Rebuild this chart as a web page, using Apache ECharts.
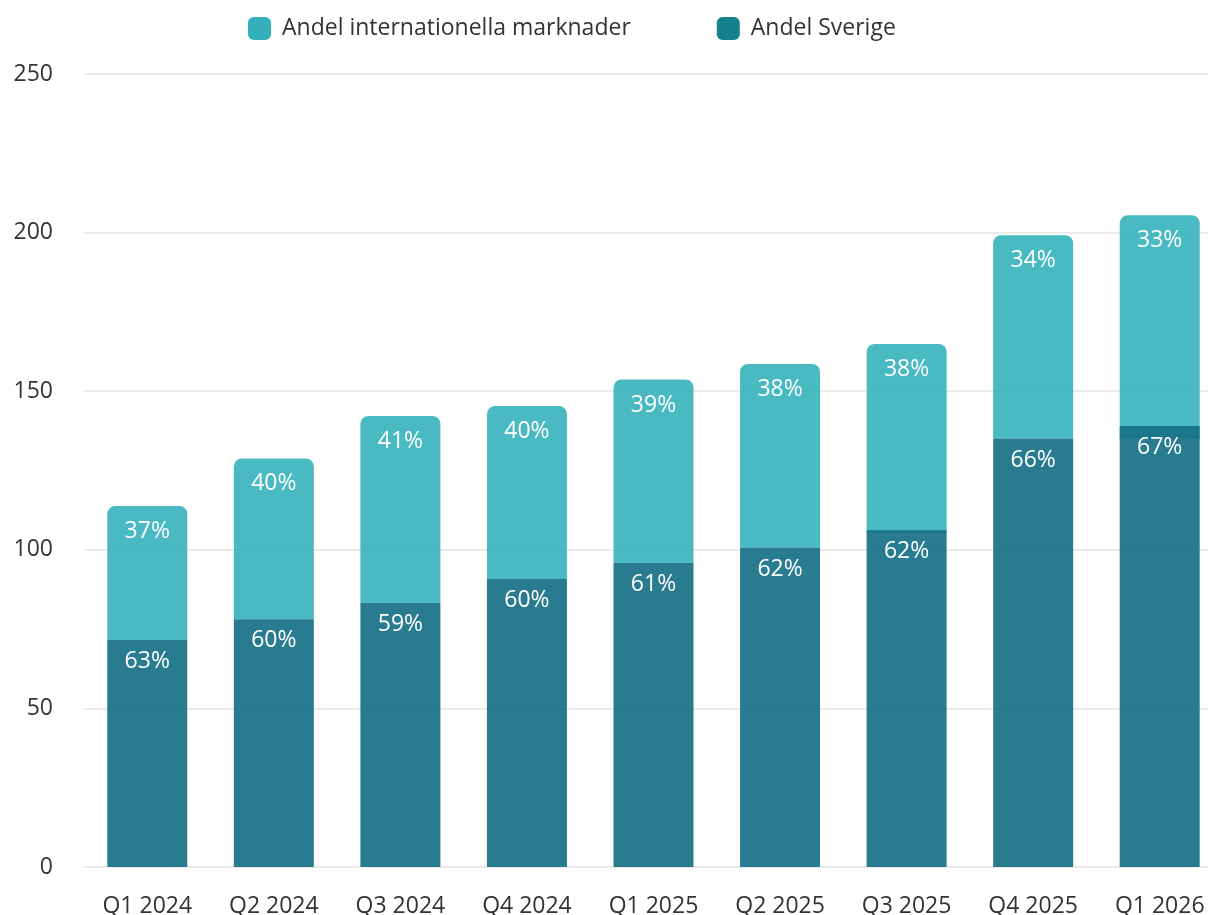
<!DOCTYPE html>
<html>
<head>
<meta charset="utf-8">
<script src="https://cdn.jsdelivr.net/npm/echarts@6/dist/echarts.min.js"></script>
<style>
  html, body { margin: 0; padding: 0; background: #fff; }
  #chart { width: 1208px; height: 915px; }
</style>
</head>
<body>
<div id="chart"></div>
<script>
var kvartal = ['Q1 2024', 'Q2 2024', 'Q3 2024', 'Q4 2024', 'Q1 2025', 'Q2 2025', 'Q3 2025', 'Q4 2025', 'Q1 2026'];
var sverige = [71.6, 78.1, 83.3, 90.8, 95.9, 100.7, 106.2, 135.1, 139.0];
var totalt = [113.8, 128.8, 142.2, 145.3, 153.7, 158.6, 164.9, 199.2, 205.5];
var intlStart = [71.6, 78.1, 83.3, 90.8, 95.9, 100.7, 105.3, 135.1, 135.1];
var andelIntl = [37, 40, 41, 40, 39, 38, 38, 34, 33];
var andelSverige = [63, 60, 59, 60, 61, 62, 62, 66, 67];
var yTicks = [0, 50, 100, 150, 200, 250];

function initChart(dom) {
  var myChart = echarts.init(dom),
    fontName = '"Open Sans", "Noto Sans", sans-serif',
    intl = totalt.map(function (v, i) {
      return +(v - intlStart[i]).toFixed(1);
    }),
    option = {
      animation: false,
      textStyle: { fontFamily: fontName },
      legend: {
        data: [
          { name: 'Andel internationella marknader', itemStyle: { color: '#35b1bb', opacity: 1 } },
          { name: 'Andel Sverige', itemStyle: { color: '#14828c', opacity: 1 } }
        ],
        left: 243,
        top: 12,
        itemWidth: 23,
        itemHeight: 23,
        itemGap: 86,
        icon: 'roundRect',
        textStyle: {
          color: '#333',
          fontSize: 23,
          padding: [0, 0, 0, 6]
        }
      },
      grid: {
        top: 74,
        bottom: 48,
        left: 84,
        right: -15,
        outerBoundsMode: 'none'
      },
      xAxis: {
        type: 'category',
        data: kvartal,
        axisLine: { show: false },
        axisTick: { show: false },
        axisLabel: {
          color: '#333',
          fontSize: 23,
          margin: 28
        }
      },
      yAxis: {
        type: 'value',
        min: yTicks[0],
        max: yTicks[yTicks.length - 1],
        interval: 50,
        axisLine: { show: false },
        axisTick: { show: false },
        axisLabel: {
          color: '#333',
          fontSize: 23,
          margin: 31
        },
        splitLine: {
          lineStyle: { color: '#e5e5e5', width: 1.5 }
        }
      },
      series: [
        {
          name: 'bas',
          type: 'bar',
          stack: 'intl',
          barWidth: 80,
          barGap: '-100%',
          silent: true,
          itemStyle: { color: 'transparent' },
          data: intlStart
        },
        {
          name: 'Andel internationella marknader',
          type: 'bar',
          stack: 'intl',
          barWidth: 80,
          itemStyle: {
            color: 'rgba(53, 177, 187, 0.9)',
            borderRadius: [8, 8, 0, 0]
          },
          label: {
            show: true,
            position: 'insideTop',
            distance: 14,
            color: '#fff',
            fontSize: 23,
            formatter: function (p) {
              return andelIntl[p.dataIndex] + '%';
            }
          },
          data: intl
        },
        {
          name: 'Andel Sverige',
          type: 'bar',
          barWidth: 80,
          barGap: '-100%',
          itemStyle: {
            color: 'rgba(25, 114, 136, 0.93)'
          },
          label: {
            show: true,
            position: 'insideTop',
            distance: 10,
            color: '#fff',
            fontSize: 23,
            formatter: function (p) {
              return andelSverige[p.dataIndex] + '%';
            }
          },
          data: sverige
        }
      ]
    };
  myChart.setOption(option, true);
}

initChart(document.getElementById('chart'));
</script>
</body>
</html>
